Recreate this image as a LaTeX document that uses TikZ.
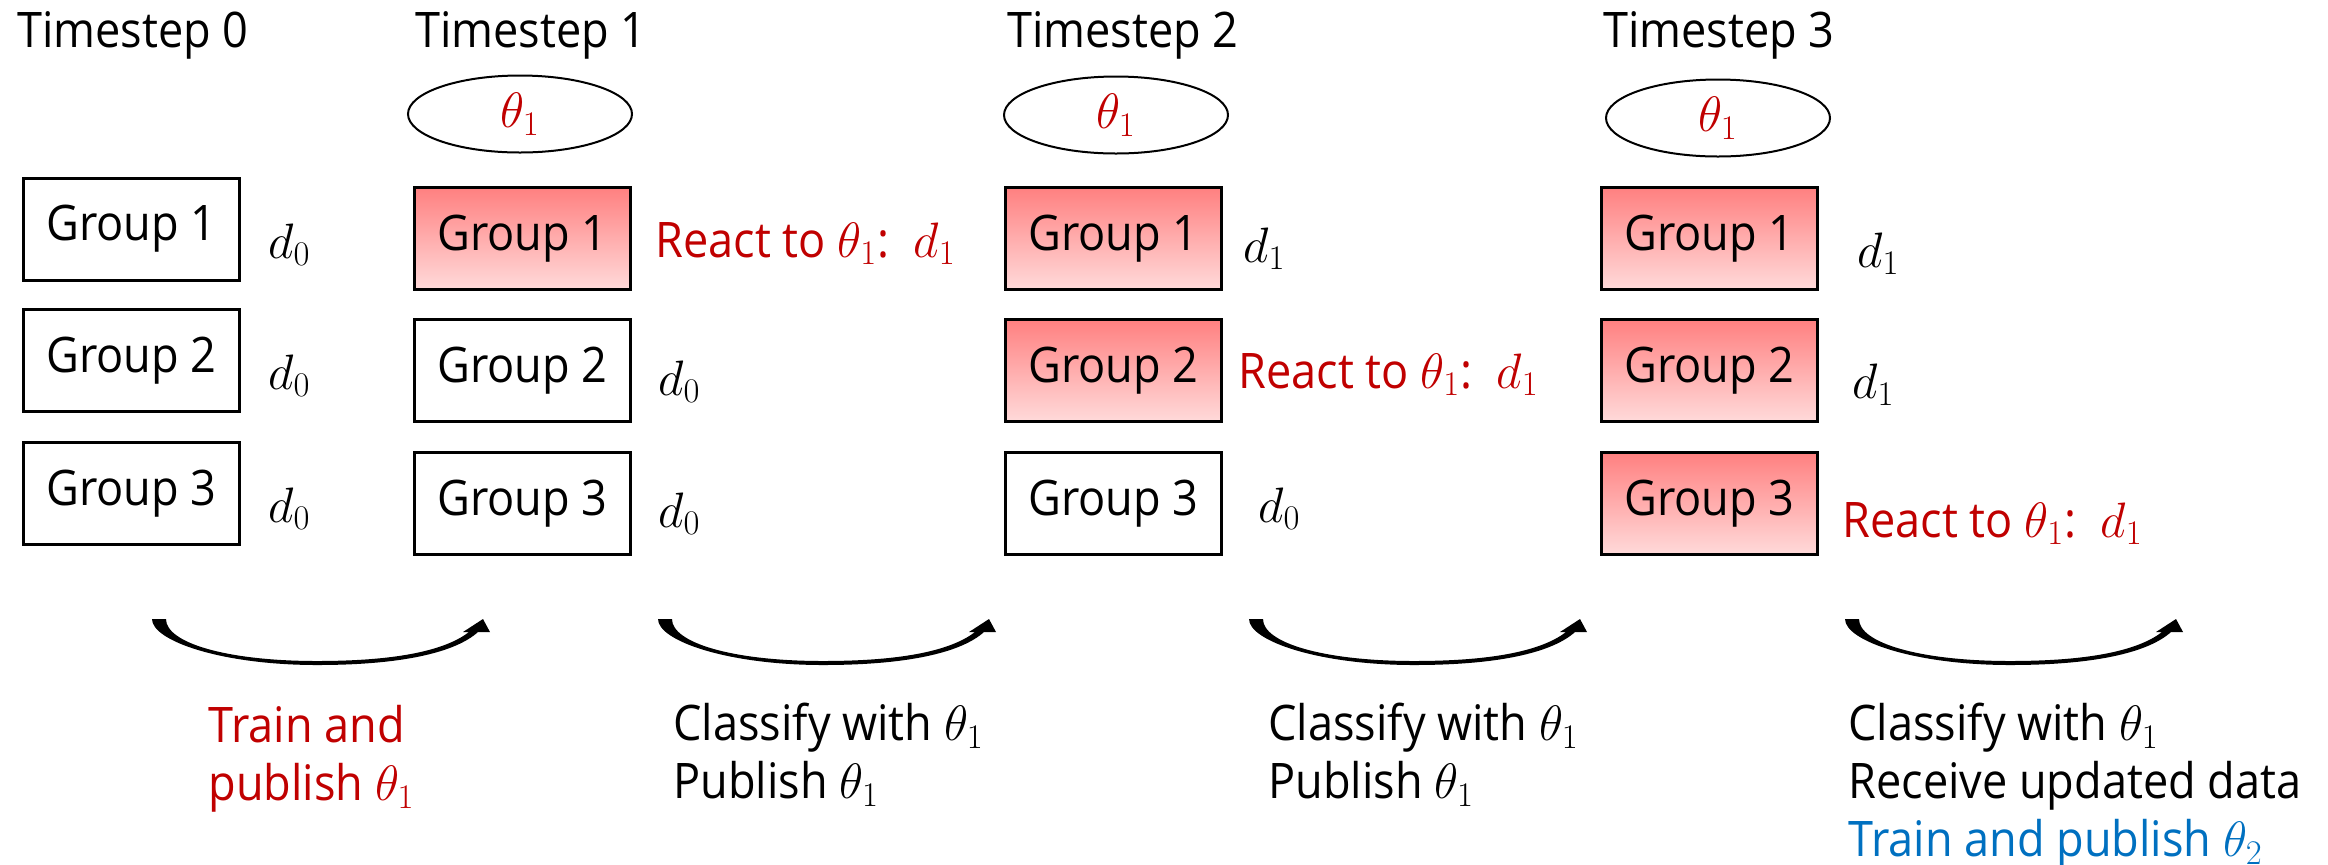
\documentclass[tikz,border=0pt]{standalone}
\usepackage{fontspec}
\setmainfont{Open Sans}[FakeStretch=0.92]
\usetikzlibrary{shapes.geometric}
\definecolor{reactred}{RGB}{192,0,0}
\definecolor{trainblue}{RGB}{0,112,192}
\definecolor{hittop}{RGB}{255,128,128}
\definecolor{hitbot}{RGB}{255,218,218}
\tikzset{
  grp/.style={draw=black,line width=1.5pt,fill=white,minimum width=108pt,
              minimum height=51pt,inner sep=0pt},
  hitgrp/.style={grp,top color=hittop,bottom color=hitbot},
  param/.style={ellipse,draw=black,line width=1pt,minimum width=112pt,
                minimum height=38.5pt,inner sep=0pt,text=reactred},
  lbl/.style={anchor=base west,inner sep=0pt},
  react/.style={lbl,text=reactred},
  note/.style={anchor=north west,inner sep=0pt,align=left},
  bendarrow/.pic={
    \fill (0,0) .. controls (0,22) and (70,46) .. (165,46)
      .. controls (255,46) and (305,32) .. (326,13)
      -- (338,13) -- (331,0) -- (311,13) -- (317,13)
      .. controls (295,30) and (250,42) .. (165,42)
      .. controls (75,42) and (14,24) .. (14,0) -- cycle;
  },
}
\begin{document}
\begin{tikzpicture}[x=0.5pt,y=-0.5pt,font=\fontsize{24.5}{29}\selectfont]
  \useasboundingbox (0,0) rectangle (2328,864);
  % timestep headings
  \node[lbl] (ts0) at (17,47) {Timestep 0};
  \node[lbl] (ts1) at (415,47) {Timestep 1};
  \node[lbl] (ts2) at (1007,47) {Timestep 2};
  \node[lbl] (ts3) at (1603,47) {Timestep 3};
  % published model
  \node[param] (th1) at (520,114) {$\theta_1$};
  \node[param] (th2) at (1116,115) {$\theta_1$};
  \node[param] (th3) at (1718,118) {$\theta_1$};
  % groups at timestep 0
  \foreach \r/\y in {1/229,2/360.5,3/493.5}{
    \node[grp] (g0\r) at (131.5,\y) {Group \r};
    \node[lbl] (d0\r) at (268,\y+29) {$d_0$};
  }
  % groups that have reacted are shaded
  \foreach \c/\x in {1/522.5,2/1113.5,3/1709.5}{
    \foreach \r/\y in {1/238.5,2/370.5,3/503.5}{
      \ifnum\r>\c
        \node[grp] (g\c\r) at (\x,\y) {Group \r};
      \else
        \node[hitgrp] (g\c\r) at (\x,\y) {Group \r};
      \fi
    }
  }
  \node[react] (r11) at (655,257) {React to $\theta_1$:\enspace$d_1$};
  \node[lbl] (d12) at (658,395) {$d_0$};
  \node[lbl] (d13) at (658,527) {$d_0$};
  \node[lbl] (d21) at (1243,262) {$d_1$};
  \node[react] (r22) at (1238,388) {React to $\theta_1$:\enspace$d_1$};
  \node[lbl] (d23) at (1258,522) {$d_0$};
  \node[lbl] (d31) at (1857,267) {$d_1$};
  \node[lbl] (d32) at (1852,398) {$d_1$};
  \node[react] (r33) at (1842,537) {React to $\theta_1$:\enspace$d_1$};
  % transitions
  \foreach \ax in {152,658,1249,1845}
    \pic at (\ax,619) {bendarrow};
  \node[note,text=reactred] (n1) at (208,705) {Train and\\publish $\theta_1$};
  \node[note] (n2) at (673,703) {Classify with $\theta_1$\\Publish $\theta_1$};
  \node[note] (n3) at (1268,703) {Classify with $\theta_1$\\Publish $\theta_1$};
  \node[note] (n4) at (1848,703) {Classify with $\theta_1$\\Receive updated data\\
    \textcolor{trainblue}{Train and publish $\theta_2$}};
\end{tikzpicture}
\end{document}
